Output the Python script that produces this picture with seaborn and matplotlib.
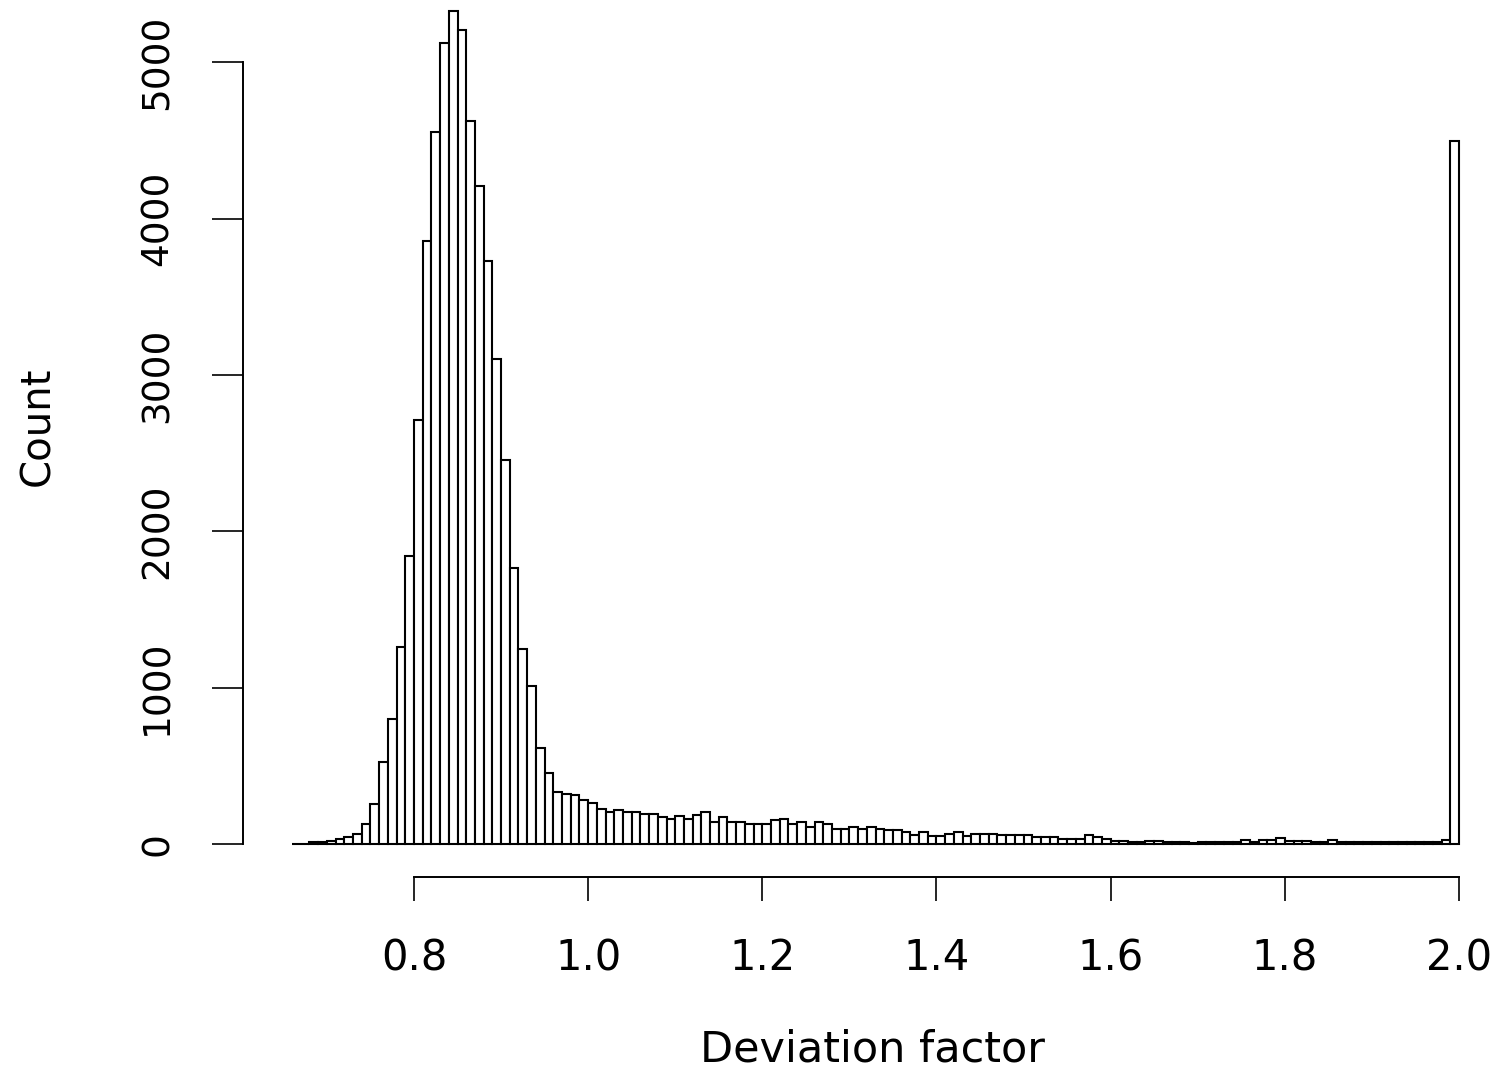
import numpy as np
import pandas as pd
import matplotlib
matplotlib.use("Agg")
import matplotlib.pyplot as plt
import seaborn as sns

# histogram bins of width 0.01 from 0.66 to 2.00 (134 bins)
bin_edges = np.round(np.linspace(0.66, 2.00, 135), 2).tolist()

# counts, one per bin
counts = [
    2, 3, 11, 13, 19, 32, 43, 66, 130, 258,
    526, 797, 1262, 1845, 2710, 3855, 4555, 5125, 5325, 5205,
    4625, 4210, 3730, 3105, 2458, 1765, 1250, 1012, 612, 453,
    331, 322, 313, 281, 260, 226, 207, 215, 207, 207,
    194, 194, 173, 162, 181, 160, 183, 207, 143, 173,
    143, 141, 128, 128, 128, 153, 162, 128, 143, 109,
    143, 130, 98, 98, 109, 98, 109, 98, 87, 87,
    77, 55, 77, 51, 51, 64, 75, 51, 64, 64,
    64, 57, 57, 57, 57, 47, 47, 47, 32, 32,
    32, 60, 47, 32, 21, 21, 11, 11, 21, 21,
    11, 11, 11, 4, 11, 11, 11, 11, 11, 26,
    11, 26, 26, 36, 21, 21, 21, 11, 11, 26,
    11, 11, 11, 11, 11, 11, 11, 11, 11, 11,
    11, 11, 26, 4495,
]

x_ticks = [0.8, 1.0, 1.2, 1.4, 1.6, 1.8, 2.0]
x_tick_labels = ["0.8", "1.0", "1.2", "1.4", "1.6", "1.8", "2.0"]
y_ticks = [0, 1000, 2000, 3000, 4000, 5000]
y_tick_labels = ["0", "1000", "2000", "3000", "4000", "5000"]

mids = [(a + b) / 2 for a, b in zip(bin_edges[:-1], bin_edges[1:])]
df = pd.DataFrame({"factor": mids, "count": counts})

sns.set_style("white")
plt.rcParams["font.family"] = ["DejaVu Sans"]
plt.rcParams["text.color"] = "black"
plt.rcParams["axes.labelcolor"] = "black"

W, H = 1497, 1074
fig = plt.figure(figsize=(W / 100, H / 100), dpi=100)
ax = fig.add_axes([243 / W, (H - 877) / H, 1 - 243 / W, 877 / H])

sns.histplot(
    data=df, x="factor", weights="count", bins=bin_edges,
    color="white", edgecolor="black", linewidth=1.5, alpha=1, ax=ax,
)

ax.set_xlim(0.60364, 2.04365)
ax.set_ylim(-211.1, 5398.5)

for side in ["top", "right"]:
    ax.spines[side].set_visible(False)
ax.spines["left"].set_bounds(0, 5000)
ax.spines["bottom"].set_bounds(0.8, 2.0)
for side in ["left", "bottom"]:
    ax.spines[side].set_linewidth(1.4)
    ax.spines[side].set_color("black")

ax.set_xticks(x_ticks)
ax.set_xticklabels(x_tick_labels)
ax.set_yticks(y_ticks)
ax.set_yticklabels(y_tick_labels)
ax.tick_params(axis="x", bottom=True, direction="out", length=17.5, width=1.2, pad=26,
               labelsize=30, colors="black")
ax.tick_params(axis="y", left=True, direction="out", length=22.5, width=1.2, pad=26,
               labelsize=27, colors="black", labelrotation=90)
for lab in ax.get_yticklabels():
    lab.set_va("center")

ax.set_xlabel("Deviation factor", fontsize=31, color="black")
ax.set_ylabel("Count", fontsize=29, color="black")
ax.xaxis.set_label_coords((873 - 243) / (W - 243), (877 - 1049) / 877)
ax.xaxis.label.set_va("center")
ax.yaxis.set_label_coords((38 - 243) / (W - 243), (877 - 426) / 877)
ax.yaxis.label.set_va("center")

fig.savefig("out.png", dpi=100)
